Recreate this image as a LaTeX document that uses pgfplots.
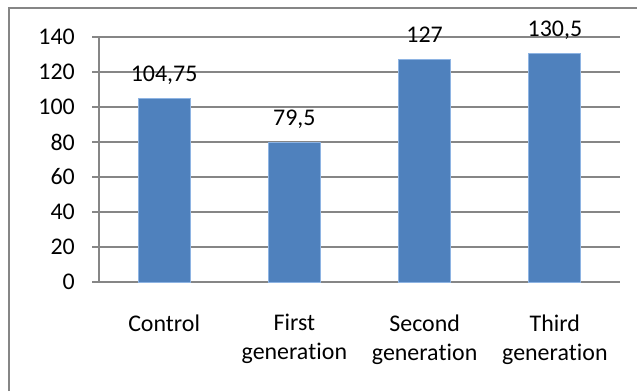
\documentclass[border=0pt]{standalone}
\usepackage{fontspec}
\setmainfont[RawFeature={-liga;-clig;-dlig}]{Carlito}
\usepackage{pgfplots}
\pgfplotsset{compat=1.18}
\definecolor{barblue}{HTML}{4F81BD}
\definecolor{baredge}{HTML}{8EB4E3}
\definecolor{gridgray}{HTML}{868686}
\newcommand\gen{genera\kern0pt t\kern0pt ion}
\begin{document}
\begin{tikzpicture}[x=1bp,y=1bp]
\useasboundingbox (0,0) rectangle (637,391);
\draw[gridgray,line width=1.5bp] (9,0) -- (9,383) -- (637,383);
\begin{axis}[
  at={(99bp,109bp)}, anchor=south west,
  scale only axis, width=521bp, height=245bp,
  xmin=-0.5, xmax=3.5, ymin=0, ymax=140,
  ytick={0,20,...,140},
  xtick={0,1,2,3},
  xticklabels={Control,First\\\gen,Second\\\gen,Third\\\gen},
  minor xtick={-0.5,0.5,1.5,2.5,3.5},
  axis x line*=bottom, axis y line*=left,
  axis line style={gridgray, line width=1.2bp, -},
  ymajorgrids, grid style={gridgray, line width=1.1bp},
  tick align=outside,
  major tick length=7bp, minor tick length=7bp,
  xtick style={draw=none},
  minor x tick style={gridgray, line width=1.2bp},
  ytick style={gridgray, line width=1.2bp},
  tick label style={font=\fontsize{24}{29}\selectfont},
  xticklabel style={align=center, anchor=north, yshift=-22bp},
  yticklabel style={anchor=east, inner sep=0pt, xshift=-17bp},
  /pgf/number format/assume math mode=true,
  /pgf/number format/use comma,
  /pgf/number format/1000 sep={},
  ybar, bar width=52bp,
  nodes near coords,
  nodes near coords style={font=\fontsize{24}{29}\selectfont, anchor=base, yshift=17.5bp, inner sep=0pt},
  clip=false,
]
\addplot[fill=barblue, draw=baredge, line width=0.8bp] coordinates {(0,104.75) (1,79.5) (2,127) (3,130.5)};
\end{axis}
\end{tikzpicture}
\end{document}
